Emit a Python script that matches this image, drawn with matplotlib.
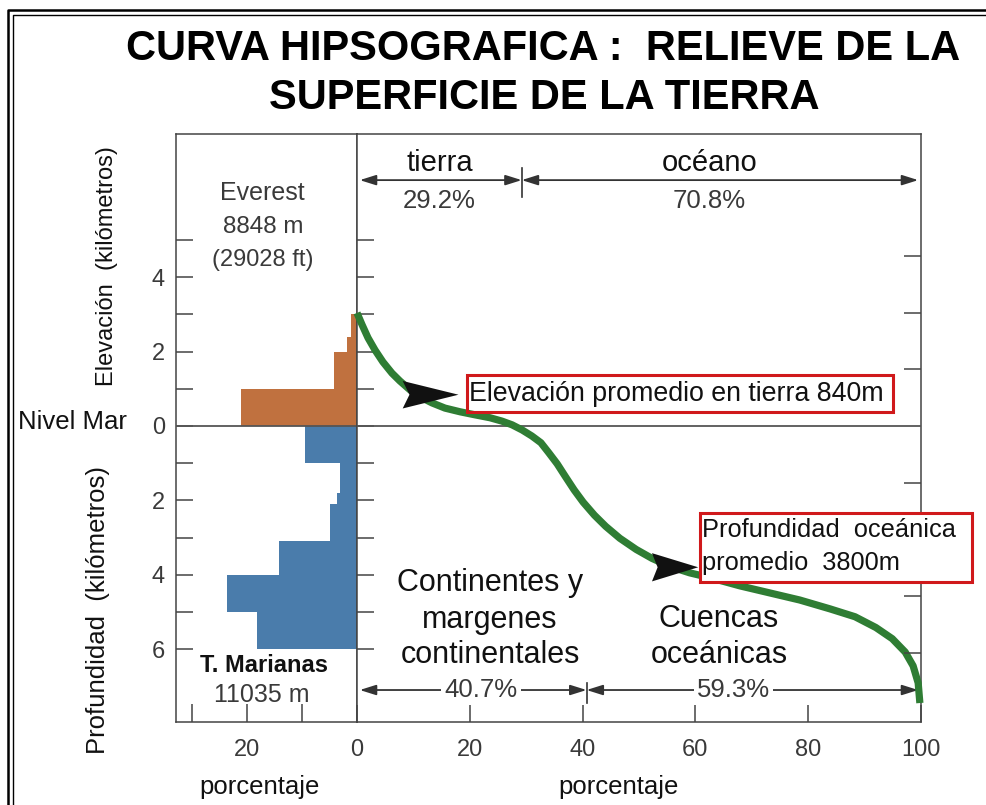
import numpy as np
import matplotlib.pyplot as plt
from matplotlib.patches import Polygon, Rectangle
from matplotlib.lines import Line2D

plt.rcParams['font.family'] = ['Liberation Sans', 'DejaVu Sans']

# histograma: porcentaje de superficie por intervalo de altura (km)
elev_bordes = [0, 1, 2, 2.4, 3]
elev_pct = [21.1, 4.2, 1.8, 1.1]
prof_bordes = [0, 1, 1.8, 2.1, 3.1, 4, 5, 6]
prof_pct = [9.5, 3.1, 3.7, 5.0, 14.3, 23.7, 18.2]

# curva hipsografica: porcentaje acumulado de superficie vs altura (km)
curva_pct = [0, 0.9, 1.95, 3.2, 4.6, 6.2, 7.6, 9.4, 11.2, 13.3, 15.6, 18.3,
             20.9, 23.6, 25.7, 27.5, 29.3, 31.0, 32.6, 34.0, 35.5, 36.9, 38.5,
             40.1, 42.1, 44.1, 46.6, 49.5, 52.3, 55.5, 59.0, 62.6, 67.9, 73.2,
             78.5, 83.9, 88.3, 92.0, 94.9, 97.2, 98.6, 99.5, 99.8]
curva_km = [3.04, 2.72, 2.37, 2.04, 1.72, 1.42, 1.21, 0.97, 0.78, 0.62, 0.48,
            0.38, 0.30, 0.22, 0.13, 0.03, -0.11, -0.27, -0.45, -0.72, -1.02,
            -1.35, -1.72, -2.05, -2.40, -2.70, -3.02, -3.32, -3.56, -3.78,
            -3.95, -4.08, -4.30, -4.49, -4.68, -4.92, -5.13, -5.42, -5.72,
            -6.08, -6.45, -6.91, -7.45]

tierra_pct = 29.2
oceano_pct = 70.8
margenes_pct = 40.7
cuencas_pct = 59.3
elev_prom_km = 0.84
prof_prom_km = -3.8

marron = '#c0713f'
azul = '#4a7cab'
verde = '#2f7d34'
gris = '#3a3a3a'
rojo = '#d0191b'

W, H = 987, 805
fig = plt.figure(figsize=(W / 100, H / 100), dpi=100)


def fx(x):
    return x / W


def fy(y):
    return 1 - y / H


def texto(x, y, s, **kw):
    kw.setdefault('ha', 'center')
    kw.setdefault('va', 'center')
    return fig.text(fx(x), fy(y), s, **kw)


ylim = (-7.96, 7.85)
ax_l = fig.add_axes([fx(176), fy(722), (357 - 176) / W, (722 - 134) / H])
ax_r = fig.add_axes([fx(357), fy(722), (921 - 357) / W, (722 - 134) / H])

# --- panel izquierdo: histograma horizontal
e0 = np.array(elev_bordes[:-1])
e1 = np.array(elev_bordes[1:])
ax_l.barh(e0, elev_pct, height=e1 - e0, align='edge', color=marron, lw=0)
p0 = np.array(prof_bordes[:-1])
p1 = np.array(prof_bordes[1:])
ax_l.barh(-p1, prof_pct, height=p1 - p0, align='edge', color=azul, lw=0)
ax_l.set_xlim(33, 0)

yt = [v for v in range(-6, 6)]
ax_l.set_yticks(yt)
ax_l.set_yticklabels([str(abs(v)) if v % 2 == 0 else '' for v in yt])
ax_l.set_xticks([10, 20, 30])
ax_l.set_xticklabels(['', '20', ''])

# --- panel derecho: curva
ax_r.plot(curva_pct, curva_km, color=verde, lw=5.2, solid_capstyle='butt',
          solid_joinstyle='round', zorder=4, clip_on=False)
ax_r.set_xlim(0, 100)
ax_r.set_yticks(yt)
ax_r.set_yticklabels([])
ax_r.set_xticks([0, 20, 40, 60, 80, 100])
ax_r.set_xticklabels(['0', '20', '40', '60', '80', '100'])

# marcas en pies al lado derecho
ax_ft = ax_r.twinx()
ax_ft.set_ylim(ylim[0] * 3280.84, ylim[1] * 3280.84)
ax_ft.set_yticks([-20000, -15000, -10000, -5000, 5000, 10000, 15000])
ax_ft.set_yticklabels([])
ax_ft.tick_params(axis='y', direction='in', length=12, width=1.1, color='#444')
for s in ax_ft.spines.values():
    s.set_visible(False)

for ax in (ax_l, ax_r):
    ax.set_ylim(*ylim)
    ax.axhline(0, color='#555', lw=1.3, zorder=3)
    ax.tick_params(axis='both', direction='in', length=12, width=1.1,
                   color='#444', labelsize=17, labelcolor=gris)
    ax.tick_params(axis='x', pad=12)
    ax.tick_params(axis='y', pad=8)
    for s in ax.spines.values():
        s.set_color('#444')
        s.set_linewidth(1.1)
ax_l.tick_params(axis='x', length=13)


# puntas de flecha negras hacia los promedios
def punta(ax, x_tip, y, largo, alto, muesca):
    xb = x_tip - largo
    verts = [(x_tip, y), (xb, y + alto), (xb + muesca, y), (xb, y - alto)]
    ax.add_patch(Polygon(verts, closed=True, fc='#111', ec='none', zorder=5))


punta(ax_r, 18.0, elev_prom_km, 9.9, 0.37, 1.2)
punta(ax_r, 60.5, prof_prom_km, 8.2, 0.38, 1.0)

# flechas de porcentajes arriba y abajo
flecha = dict(arrowstyle='<|-|>,head_length=0.7,head_width=0.22', color='#333',
              lw=1.3, shrinkA=0, shrinkB=2, mutation_scale=14)
y_sup = 6.61
ax_r.annotate('', xy=(0, y_sup), xytext=(tierra_pct, y_sup), arrowprops=flecha)
ax_r.annotate('', xy=(100, y_sup), xytext=(tierra_pct, y_sup), arrowprops=flecha)
ax_r.plot([tierra_pct] * 2, [6.16, 6.94], color='#333', lw=1.2)

y_inf = -7.1
ax_r.annotate('', xy=(0, y_inf), xytext=(margenes_pct, y_inf), arrowprops=flecha)
ax_r.annotate('', xy=(100, y_inf), xytext=(margenes_pct, y_inf), arrowprops=flecha)
ax_r.plot([margenes_pct] * 2, [-6.91, -7.45], color='#333', lw=1.2)

fondo = dict(boxstyle='square,pad=0.12', fc='white', ec='none')
ax_r.text(22.0, y_inf, f'{margenes_pct}%', ha='center', va='center', fontsize=18.5,
          color=gris, bbox=fondo, zorder=6)
ax_r.text(66.8, y_inf, f'{cuencas_pct}%', ha='center', va='center', fontsize=18.5,
          color=gris, bbox=fondo, zorder=6)

ax_r.text(tierra_pct / 2, 7.06, 'tierra', ha='center', va='center', fontsize=21,
          color='#111')
ax_r.text(62.5, 7.06, 'océano', ha='center', va='center', fontsize=21, color='#111')
ax_r.text(tierra_pct / 2, 6.05, f'{tierra_pct}%', ha='center', va='center',
          fontsize=18.5, color=gris)
ax_r.text(62.5, 6.05, f'{oceano_pct}%', ha='center', va='center', fontsize=18.5,
          color=gris)

# recuadros rojos
fig.add_artist(Rectangle((fx(467), fy(412)), (893 - 467) / W, (412 - 375) / H,
                         transform=fig.transFigure, fill=False, ec=rojo, lw=2.2,
                         zorder=6))
texto(469, 394, 'Elevación promedio en tierra 840m', ha='left', fontsize=19.3,
      color='#111', zorder=7)
fig.add_artist(Rectangle((fx(700), fy(582)), (972 - 700) / W, (582 - 513) / H,
                         transform=fig.transFigure, fc='white', ec=rojo, lw=2.2,
                         zorder=6))
texto(702, 530, 'Profundidad  oceánica', ha='left', fontsize=18.3, color='#111',
      zorder=7)
texto(702, 563, 'promedio  3800m', ha='left', fontsize=18.3, color='#111', zorder=7)

# textos del grafico
texto(490, 583, 'Continentes y', fontsize=22, color='#111')
texto(490, 620, 'margenes', fontsize=22, color='#111')
texto(490, 655, 'continentales', fontsize=22, color='#111')
texto(719, 619, 'Cuencas', fontsize=22, color='#111')
texto(719, 655, 'oceánicas', fontsize=22, color='#111')

texto(262, 193, 'Everest', fontsize=18, color=gris)
texto(263, 227, '8848 m', fontsize=17.5, color=gris)
texto(263, 260, '(29028 ft)', fontsize=17, color=gris)
texto(264, 665, 'T. Marianas', fontsize=17, fontweight='bold', color='#111')
texto(262, 695, '11035 m', fontsize=18, color=gris)

texto(18, 422, 'Nivel Mar', ha='left', fontsize=18.5, color='#111')
texto(107, 266, 'Elevación  (kilómetros)', rotation=90, fontsize=17, color='#111')
texto(98, 610, 'Profundidad  (kilómetros)', rotation=90, fontsize=18.5, color='#111')
texto(260, 787, 'porcentaje', fontsize=18.5, color='#111')
texto(619, 787, 'porcentaje', fontsize=18.5, color='#111')

titulo = dict(fontsize=30, fontweight='bold', color='#000')
texto(543, 49, 'CURVA HIPSOGRAFICA :  RELIEVE DE LA', **titulo)
texto(544, 98, 'SUPERFICIE DE LA TIERRA', **titulo)

# marco doble
fig.add_artist(Line2D([fx(8), fx(8), 1], [0, fy(10), fy(10)], color='#000', lw=1.8,
                      transform=fig.transFigure))
fig.add_artist(Line2D([fx(13), fx(13), 1], [0, fy(15), fy(15)], color='#000', lw=1.0,
                      transform=fig.transFigure))

fig.savefig('out.png', dpi=100, facecolor='white')
